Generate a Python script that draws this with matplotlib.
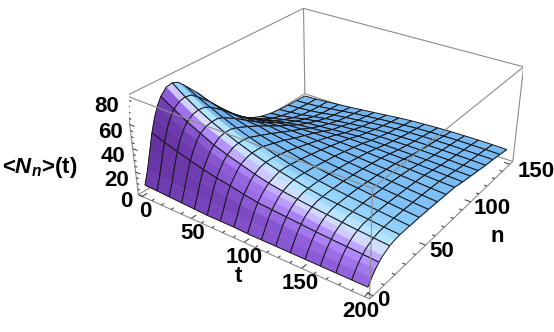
import numpy as np
import matplotlib
matplotlib.use('Agg')
import matplotlib.pyplot as plt
from mpl_toolkits.mplot3d.art3d import Poly3DCollection, Line3DCollection

plt.rcParams['font.family'] = ['Liberation Sans', 'DejaVu Sans']
plt.rcParams['mathtext.fontset'] = 'custom'
plt.rcParams['mathtext.bfit'] = 'Liberation Sans:italic:bold'
plt.rcParams['mathtext.rm'] = 'Liberation Sans:bold'

# values
t_vals = [0, 12.5, 25, 37.5, 50, 62.5, 75, 87.5, 100, 112.5, 125, 137.5, 150, 162.5, 175, 187.5, 200]
n_vals = [0, 3.125, 6.25, 9.375, 12.5, 15.625, 18.75, 23.44, 28.125, 32.81, 37.5, 46.875, 56.25,
          65.625, 75, 84.375, 93.75, 103.125, 112.5, 121.875, 131.25, 140.625, 150]
# rows where a mesh line is drawn along t
n_mesh = [0, 3, 6, 8, 10, 11, 12, 13, 14, 15, 16, 17, 18, 19, 20, 21, 22]

heights = [
    [8, 7.5, 7, 6.5, 6, 5.5, 5.5, 5.5, 5, 5, 5, 5, 5, 5, 5, 5, 5],
    [19, 18, 17, 16, 15, 14.5, 13.5, 12.5, 12, 11.7, 11.4, 11.2, 11, 10.8, 10.5, 10.2, 10],
    [33, 31, 29, 27, 25, 23.5, 22, 20.5, 19, 18.3, 17.5, 16.8, 16.2, 15.6, 15, 14.5, 14],
    [47, 43, 39.5, 36, 33, 30.5, 28.5, 26, 24, 23, 22, 21, 20, 19.2, 18.5, 17.8, 17],
    [58, 53, 48, 43, 39, 36, 33, 30, 28, 26.5, 25.5, 24.5, 23.3, 22.2, 21.3, 20.4, 19.5],
    [66, 60, 54, 49, 44, 40.5, 37, 34, 31, 29.5, 28, 26.7, 25.5, 24.2, 23.2, 22, 21],
    [72, 65, 58.5, 53, 47.5, 43.5, 40, 36.5, 33.5, 31.5, 29.8, 28.3, 27, 25.7, 24.5, 23.5, 22.5],
    [77, 69, 62, 56, 51, 46.5, 42.5, 39, 35.5, 33.5, 31.5, 29.8, 28.3, 27, 25.8, 24.6, 23.5],
    [78, 70, 63, 57, 52, 47.5, 43.5, 40, 37, 34.5, 32, 30, 28.7, 27.4, 26.2, 25, 24],
    [76, 69, 62.5, 57, 52, 47.5, 43.5, 40, 37, 34.5, 32, 30.2, 28.8, 27.5, 26.3, 25.1, 24],
    [71, 65, 60, 55, 50.5, 46.5, 43, 39.5, 36.5, 34, 32, 30.2, 28.8, 27.5, 26.3, 25.1, 24],
    [60, 56, 52.5, 49, 46, 42.5, 40, 37.5, 35, 33, 31.2, 29.7, 28.5, 27.2, 26, 24.9, 23.8],
    [47, 45, 43.5, 42, 41, 38.5, 36.7, 34.7, 33, 31.4, 30, 28.8, 27.6, 26.5, 25.4, 24.4, 23.5],
    [35, 35, 35, 35.2, 35.5, 34, 32.8, 32, 31, 29.8, 28.7, 27.7, 26.7, 25.8, 24.8, 23.9, 23],
    [25, 26.5, 28, 29, 30, 29.7, 29.5, 29, 28.5, 27.8, 27, 26.2, 25.5, 24.8, 24, 23.2, 22.5],
    [17, 19.5, 21.5, 23.5, 25, 25.5, 26, 26, 26, 25.6, 25.2, 24.7, 24.2, 23.7, 23.1, 22.5, 22],
    [11, 13.5, 16, 18, 20, 21, 22, 22.8, 23.5, 23.3, 23, 22.6, 22.2, 21.8, 21.3, 20.8, 20.3],
    [7, 9, 11.5, 14, 16, 17, 18, 19, 20, 20.3, 20.3, 20.2, 20, 19.8, 19.5, 19.2, 18.9],
    [4.5, 6, 8, 10.5, 12.5, 14, 15.5, 16.5, 17.5, 18, 18.2, 18.3, 18.3, 18.2, 18, 17.7, 17.5],
    [3, 4, 5.5, 7.5, 9.5, 11, 12.5, 13.8, 15, 15.7, 16.1, 16.4, 16.6, 16.6, 16.5, 16.3, 16],
    [2, 3, 4, 5.5, 7.5, 9, 10.3, 11.7, 13, 13.8, 14.5, 15, 15.3, 15.3, 15.2, 15.1, 15],
    [1.5, 2, 3, 4.5, 6, 7.5, 8.7, 10, 11, 12, 12.8, 13.3, 13.7, 13.9, 13.9, 13.8, 13.6],
    [1, 1.5, 2.5, 3.5, 4.5, 5.7, 7, 8.2, 9.5, 10.5, 11.2, 11.8, 12.2, 12.4, 12.5, 12.4, 12.2],
]

t_ticks = [0, 50, 100, 150, 200]
n_ticks = [0, 50, 100, 150]
z_ticks = [0, 20, 40, 60, 80]

t_lim = (-4, 204)
n_lim = (-3, 154)
z_lim = (0, 83)
ELEV, AZIM = 29.0, -54.5
Z_RATIO = .40

# facet colour by how far it leans towards the viewer
lean_deg = [-40, -15, 0, 5, 12, 25, 40, 55, 70, 85]
lean_r = [.38, .44, .49, .60, .70, .84, .70, .56, .44, .38]
lean_g = [.62, .70, .75, .84, .90, .86, .55, .36, .24, .18]
lean_b = [.90, .95, .96, .99, 1.0, 1.0, .99, .85, .70, .60]


def shade(quad):
    # quad in data units -> colour from the normal in box units
    q = np.array(quad) / [t_lim[1] - t_lim[0], n_lim[1] - n_lim[0], (z_lim[1] - z_lim[0]) / Z_RATIO]
    nrm = np.cross(q[2] - q[0], q[3] - q[1])
    lean = np.degrees(np.arctan2(-nrm[1], nrm[2])) + .6 * np.degrees(np.arctan2(nrm[0], nrm[2]))
    return (np.interp(lean, lean_deg, lean_r), np.interp(lean, lean_deg, lean_g), np.interp(lean, lean_deg, lean_b))


fig = plt.figure(figsize=(5.54, 3.32), dpi=100)
size = 394
cx, cy = 326, 136
ax = fig.add_axes([(cx - size / 2) / 554, (332 - cy - size / 2) / 332, size / 554, size / 332],
                  projection='3d', computed_zorder=False)
ax.set_box_aspect((1, 1, Z_RATIO))
ax.view_init(elev=ELEV, azim=AZIM)
ax.set_proj_type('persp', focal_length=.42)
ax.set_axis_off()
ax.patch.set_alpha(0)
ax.set_xlim(t_lim)
ax.set_ylim(n_lim)
ax.set_zlim(z_lim)

box_col = '#8c8c8c'
t0, t1 = t_lim
n0, n1 = n_lim
z0, z1 = z_lim
back = [[(t0, n1, z0), (t0, n1, z1)], [(t0, n0, z1), (t0, n1, z1)], [(t0, n1, z1), (t1, n1, z1)],
        [(t0, n0, z0), (t0, n1, z0)], [(t0, n1, z0), (t1, n1, z0)], [(t1, n1, z0), (t1, n0, z0)]]
front = [[(t0, n0, z1), (t1, n0, z1)], [(t1, n0, z1), (t1, n1, z1)], [(t1, n0, z0), (t1, n0, z1)],
         [(t0, n0, z0), (t0, n0, z1)], [(t1, n1, z0), (t1, n1, z1)], [(t0, n0, z0), (t1, n0, z0)]]
ax.add_collection3d(Line3DCollection(back, colors=box_col, linewidths=.8, zorder=1), autolim=False)

# painter's order: far corner (low t, high n) first
zs = np.array(heights)
order = 2
for a in range(len(n_mesh) - 2, -1, -1):
    r0, r1 = n_mesh[a], n_mesh[a + 1]
    for j in range(len(t_vals) - 1):
        faces = []
        cols = []
        for r in range(r0, r1):
            quad = [(t_vals[j], n_vals[r], zs[r, j]), (t_vals[j + 1], n_vals[r], zs[r, j + 1]),
                    (t_vals[j + 1], n_vals[r + 1], zs[r + 1, j + 1]), (t_vals[j], n_vals[r + 1], zs[r + 1, j])]
            faces.append(quad)
            cols.append(shade(quad))
        ax.add_collection3d(Poly3DCollection(faces, facecolors=cols, edgecolors=cols, linewidths=.3, zorder=order),
                            autolim=False)
        order += 1
        left = [(t_vals[j], n_vals[r], zs[r, j]) for r in range(r0, r1 + 1)]
        right = [(t_vals[j + 1], n_vals[r], zs[r, j + 1]) for r in range(r0, r1 + 1)]
        bottom = [left[0], right[0]]
        top = [left[-1], right[-1]]
        ax.add_collection3d(Line3DCollection([left, right, bottom, top], colors='#151515', linewidths=.7,
                                             zorder=order), autolim=False)
        order += 1

ax.add_collection3d(Line3DCollection(front, colors=box_col, linewidths=.8, zorder=order), autolim=False)
order += 1

# tick marks
tick_segs = []
for t in range(0, 201, 10):
    ln = 4 if t % 50 == 0 else 2
    tick_segs.append([(t, n0, z0), (t, n0 + ln, z0)])
for n in range(0, 151, 10):
    ln = 5 if n % 50 == 0 else 2.5
    tick_segs.append([(t1, n, z0), (t1 - ln, n, z0)])
for z in range(0, 81, 5):
    ln = 5 if z % 20 == 0 else 2.5
    tick_segs.append([(t0, n0, z), (t0 + ln, n0, z)])
ax.add_collection3d(Line3DCollection(tick_segs, colors='#333333', linewidths=.7, zorder=order), autolim=False)
order += 1

fs = 16
for t in t_ticks:
    ax.text(t * .95 + 16.5, n0 - 10, z0, str(t), fontsize=fs, fontweight='bold', ha='center', va='center', zorder=order)
for n in n_ticks:
    ax.text(t1 + 8 + .093 * n, n * 1.01, z0, str(n), fontsize=fs, fontweight='bold', ha='center', va='center',
            zorder=order)
for z in z_ticks:
    if z == 0:
        ax.text(t0, n0 - 9, z, str(z), fontsize=fs, fontweight='bold', ha='center', va='center', zorder=order)
    else:
        ax.text(t0 - 3, n0 - 12, z, str(z), fontsize=fs, fontweight='bold', ha='center', va='center', zorder=order)

fig.text(238 / 554, 1 - 276 / 332, 't', fontsize=fs, fontweight='bold', ha='center', va='center')
fig.text(497 / 554, 1 - 237 / 332, 'n', fontsize=fs, fontweight='bold', ha='center', va='center')
fig.text(2 / 554, 1 - 167 / 332, r'<$\mathbfit{N}_{\mathbfit{n}}$>(t)', fontsize=fs, fontweight='bold',
         ha='left', va='center')

fig.savefig('out.png', dpi=100)
